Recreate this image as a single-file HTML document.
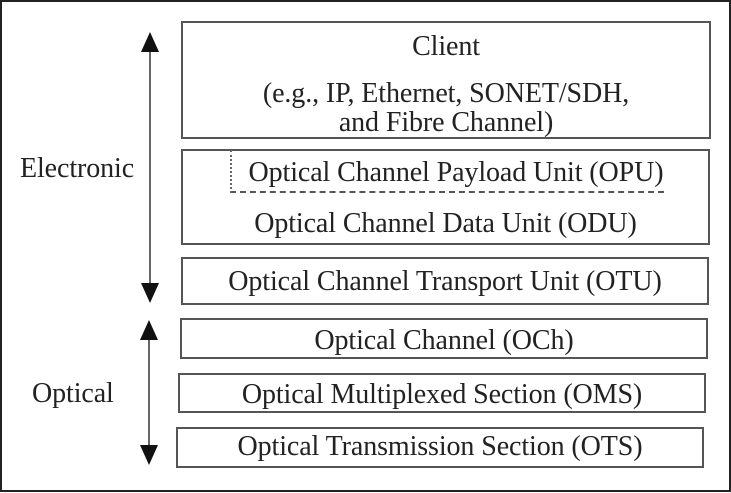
<!DOCTYPE html><html><head><style>
body{margin:0;width:731px;height:493px;background:#fff;position:relative;font-family:"Liberation Serif",serif;color:#222;overflow:hidden}
.b{position:absolute;border:2px solid #555;box-sizing:border-box}
.t{position:absolute;font-size:28px;line-height:32px;height:32px;white-space:nowrap;text-align:center;letter-spacing:-0.1px}
</style></head><body>
<div class="b" style="left:0;top:0;width:731px;height:492px;border-color:#222"></div>
<div class="b" style="left:181px;top:21px;width:530px;height:118px"></div>
<div class="t" style="left:181px;width:530px;top:31px">Client</div>
<div class="t" style="left:181px;width:530px;top:78px">(e.g., IP, Ethernet, SONET/SDH,</div>
<div class="t" style="left:181px;width:530px;top:107px">and Fibre Channel)</div>
<div class="b" style="left:181px;top:149px;width:529px;height:96px"></div>
<div style="position:absolute;left:230px;top:150px;width:434px;height:43px;border-left:2px dotted #666;border-bottom:2px dashed #555;box-sizing:border-box"></div>
<div class="t" style="left:240px;width:432px;top:157px">Optical Channel Payload Unit (OPU)</div>
<div class="t" style="left:181px;width:529px;top:208px">Optical Channel Data Unit (ODU)</div>
<div class="b" style="left:181px;top:257px;width:528px;height:48px"></div>
<div class="t" style="left:181px;width:528px;top:266px">Optical Channel Transport Unit (OTU)</div>
<div class="b" style="left:180px;top:318px;width:528px;height:41px"></div>
<div class="t" style="left:180px;width:528px;top:325px">Optical Channel (OCh)</div>
<div class="b" style="left:178px;top:373px;width:528px;height:40px"></div>
<div class="t" style="left:178px;width:528px;top:379px">Optical Multiplexed Section (OMS)</div>
<div class="b" style="left:176px;top:427px;width:528px;height:41px"></div>
<div class="t" style="left:176px;width:528px;top:431px">Optical Transmission Section (OTS)</div>
<div class="t" style="left:20px;top:153px;text-align:left">Electronic</div>
<div class="t" style="left:32px;top:378px;text-align:left">Optical</div>
<svg width="731" height="493" style="position:absolute;left:0;top:0">
<line x1="150" y1="45" x2="150" y2="288" stroke="#666" stroke-width="2"/>
<polygon points="141,52 159,52 150,32" fill="#111"/>
<polygon points="141,283 159,283 150,303" fill="#111"/>
<line x1="149" y1="335" x2="149" y2="450" stroke="#666" stroke-width="2"/>
<polygon points="140,340 158,340 149,320" fill="#111"/>
<polygon points="140,445 158,445 149,465" fill="#111"/>
</svg>
</body></html>
